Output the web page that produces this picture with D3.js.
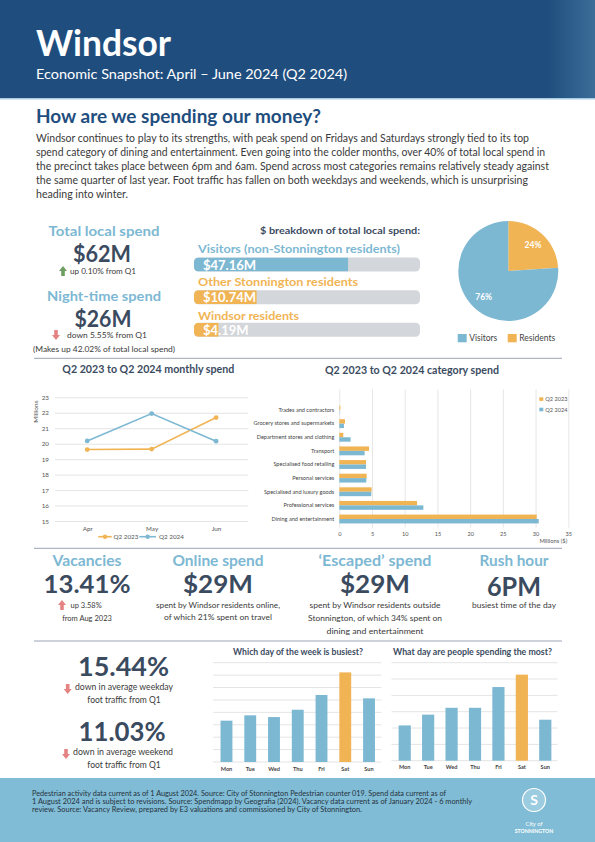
<!DOCTYPE html>
<html><head><meta charset="utf-8">
<script src="https://cdn.jsdelivr.net/npm/d3@7"></script>
<style>
html,body{margin:0;padding:0;background:#fff;}
svg{display:block;font-family:Lato,'Open Sans',sans-serif;}
</style></head><body>
<svg id="c" width="595" height="842"></svg>
<script>
// ---------------- DATA ----------------
const months = ["Apr","May","Jun"];
const seriesNames = ["Q2 2023","Q2 2024"];
const monthly2023 = [19.62,19.65,21.69];
const monthly2024 = [20.18,21.95,20.16];
const monthlyTicks = [15,16,17,18,19,20,21,22,23];

const categories = ["Trades and contractors","Grocery stores and supermarkets","Department stores and clothing","Transport","Specialised food retailing","Personal services","Specialised and luxury goods","Professional services","Dining and entertainment"];
const category2023 = [0.15,0.87,0.61,4.54,4.08,4.18,4.94,11.88,30.17];
const category2024 = [0.04,0.71,1.73,3.87,4.08,4.13,4.89,12.85,30.48];
const categoryTicks = [0,5,10,15,20,25,30,35];

const breakdownLabels = ["Visitors (non-Stonnington residents)","Other Stonnington residents","Windsor residents"];
const breakdownValues = [47.16,10.74,4.19];
const breakdownText = ["$47.16M","$10.74M","$4.19M"];
const breakdownDomainMax = [69.2,38.8,38.8];

const pieLabels = ["Visitors","Residents"];
const pieValues = [76,24];

const days = ["Mon","Tue","Wed","Thu","Fri","Sat","Sun"];
const footTraffic = [3.33,3.76,3.62,4.21,5.40,7.22,5.13];
const footTicks = [0,1,2,3,4,5,6,7,8];
const daySpend = [2.16,2.82,3.24,3.24,4.51,5.27,2.51];
const spendTicks = [0,1,2,3,4,5,6];

const paragraph = [
 "Windsor continues to play to its strengths, with peak spend on Fridays and Saturdays strongly tied to its top",
 "spend category of dining and entertainment. Even going into the colder months, over 40% of total local spend in",
 "the precinct takes place between 6pm and 6am.  Spend across most categories remains relatively steady against",
 "the same quarter of last year. Foot traffic has fallen on both weekdays and weekends, which is unsurprising",
 "heading into winter."
];
const footerLines = [
 "Pedestrian activity data current as of 1 August 2024. Source: City of Stonnington Pedestrian counter 019. Spend data current as of",
 "1 August 2024 and is subject to revisions. Source: Spendmapp by Geografia (2024). Vacancy data current as of January 2024 - 6 monthly",
 "review. Source: Vacancy Review, prepared by E3 valuations and commissioned by City of Stonnington."
];

// ---------------- STYLE ----------------
const NAVY="#1f4e7e", BLUE="#7db8d3", ORANGE="#f1b454", DARK="#3b4b5f", GREY="#d3d6da", LINE="#9aa3b5", TXT="#3a3a3a", SMALL="#555";
const svg = d3.select("#c");

function txt(g,x,y,s,o={}){
  const t=g.append("text").attr("x",x).attr("y",y).text(s)
    .attr("font-size",o.size||10).attr("fill",o.fill||TXT)
    .attr("font-weight",o.weight||400).attr("text-anchor",o.anchor||"start");
  if(o.len){t.attr("textLength",o.len).attr("lengthAdjust","spacingAndGlyphs");}
  if(o.family) t.attr("font-family",o.family);
  return t;
}
function arrow(g,cx,top,dir,color){
  const h=10,hw=4,sw=1.8,hh=5;
  let pts;
  if(dir==="up") pts=[[cx,top],[cx+hw,top+hh],[cx+sw,top+hh],[cx+sw,top+h],[cx-sw,top+h],[cx-sw,top+hh],[cx-hw,top+hh]];
  else pts=[[cx-sw,top],[cx+sw,top],[cx+sw,top+h-hh],[cx+hw,top+h-hh],[cx,top+h],[cx-hw,top+h-hh],[cx-sw,top+h-hh]];
  g.append("polygon").attr("points",pts.map(p=>p.join(",")).join(" ")).attr("fill",color);
}

// ---------------- HEADER ----------------
const defs=svg.append("defs");
const grad=defs.append("linearGradient").attr("id","hg").attr("x1","0").attr("x2","1").attr("y1","0").attr("y2","0");
grad.append("stop").attr("offset","0").attr("stop-color",NAVY);
grad.append("stop").attr("offset","0.92").attr("stop-color",NAVY);
grad.append("stop").attr("offset","1").attr("stop-color","#3c6d98");
svg.append("rect").attr("x",0).attr("y",0).attr("width",595).attr("height",98).attr("fill","url(#hg)");
svg.append("rect").attr("x",0).attr("y",98).attr("width",595).attr("height",1.5).attr("fill","#a9cbe3");
txt(svg,36,56,"Windsor",{size:36,weight:700,fill:"#fff",len:135});
txt(svg,36,79,"Economic Snapshot: April \u2013 June 2024 (Q2 2024)",{size:13.5,fill:"#fff",len:311});

// ---------------- INTRO ----------------
txt(svg,36,123,"How are we spending our money?",{size:18.5,weight:700,fill:NAVY,len:285});
const paraLen=[493,509,513,492,92];
paragraph.forEach((l,i)=>txt(svg,36,141.5+i*14,l,{size:10.5,fill:TXT,len:paraLen[i]}));

// ---------------- KPI LEFT ----------------
const k=svg.append("g");
txt(k,104,235.7,"Total local spend",{size:14,weight:700,fill:BLUE,anchor:"middle",len:111});
txt(k,102,261.7,"$62M",{size:22.5,weight:700,fill:DARK,anchor:"middle",len:58});
arrow(k,63,266,"up","#6f9e62");
txt(k,70,274,"up 0.10% from Q1",{size:7.5,fill:TXT,len:66});
txt(k,104,301,"Night-time spend",{size:14,weight:700,fill:BLUE,anchor:"middle",len:114});
txt(k,103,326.7,"$26M",{size:22.5,weight:700,fill:DARK,anchor:"middle",len:57});
arrow(k,56,330,"down","#e58383");
txt(k,67,338.3,"down 5.55% from Q1",{size:7.5,fill:TXT,len:80});
txt(k,104,351.7,"(Makes up 42.02% of total local spend)",{size:7.5,fill:TXT,anchor:"middle",len:142});

// ---------------- BREAKDOWN BARS ----------------
const b=svg.append("g");
txt(b,420,234,"$ breakdown of total local spend:",{size:9.5,weight:700,fill:DARK,anchor:"end",len:160});
const bx0=194,bx1=420,bh=14;
const labelY=[252.5,286,320], barY=[257.5,290.2,322.8];
const barColors=[BLUE,ORANGE,ORANGE];
breakdownValues.forEach((v,i)=>{
  const sc=d3.scaleLinear().domain([0,breakdownDomainMax[i]]).range([bx0,bx1]);
  txt(b,198,labelY[i],breakdownLabels[i],{size:12,weight:700,fill:barColors[i],len:[202,160,101][i]});
  const cid="clip"+i;
  defs.append("clipPath").attr("id",cid).append("rect").attr("x",bx0).attr("y",barY[i]).attr("width",bx1-bx0).attr("height",bh).attr("rx",4.5);
  b.append("rect").attr("x",bx0).attr("y",barY[i]).attr("width",bx1-bx0).attr("height",bh).attr("rx",4.5).attr("fill",GREY);
  b.append("rect").attr("clip-path",`url(#${cid})`).attr("x",bx0).attr("y",barY[i]).attr("width",sc(v)-bx0).attr("height",bh).attr("fill",barColors[i]);
  txt(b,203,barY[i]+12,breakdownText[i],{size:13,weight:700,fill:"#fff"});
});

// ---------------- PIE ----------------
const pg=svg.append("g").attr("transform","translate(508.3,271)");
const pie=d3.pie().sort(null).value(d=>d)(pieValues.slice().reverse());
const arc=d3.arc().innerRadius(0).outerRadius(50);
const pieCols=[ORANGE,BLUE];
pg.selectAll("path").data(pie).join("path").attr("d",arc).attr("fill",(d,i)=>pieCols[i]);
const labArc=d3.arc().innerRadius(36).outerRadius(36);
pg.selectAll("text.pl").data(pie).join("text").attr("class","pl")
  .attr("transform",(d,i)=>{const c=labArc.centroid(d);return `translate(${c[0]},${c[1]+3})`;})
  .attr("text-anchor","middle").attr("font-size",8.5).attr("font-weight",700).attr("fill","#fff")
  .text(d=>d.data+"%");
const legCols=[BLUE,ORANGE], legX=[457.7,507.7];
pieLabels.forEach((l,i)=>{
  svg.append("rect").attr("x",legX[i]).attr("y",334).attr("width",9).attr("height",8.3).attr("fill",legCols[i]);
  txt(svg,legX[i]+11.5,341.3,l,{size:8.5,fill:"#444"});
});

// separators
[358.3,548.3,641].forEach(y=>svg.append("line").attr("x1",34).attr("x2",562).attr("y1",y).attr("y2",y).attr("stroke",LINE).attr("stroke-width",1));

// ---------------- LINE CHART ----------------
const lc=svg.append("g");
txt(lc,148.3,373.3,"Q2 2023 to Q2 2024 monthly spend",{size:10.5,weight:700,fill:DARK,anchor:"middle",len:172});
const lx=d3.scalePoint().domain(months).range([55,248.3]).padding(0.5);
const ly=d3.scaleLinear().domain([15,23]).range([521,397.3]);
const ya=lc.append("g").attr("transform","translate(55,0)")
  .call(d3.axisLeft(ly).tickValues(monthlyTicks).tickSize(-(248.3-55)).tickPadding(6).tickFormat(d3.format("d")));
ya.select(".domain").remove();
ya.selectAll("line").attr("stroke","#d9d9d9").attr("stroke-width",0.7);
ya.selectAll("text").attr("font-size",6.3).attr("fill",SMALL).attr("font-family","Lato,sans-serif");
const xa=lc.append("g").attr("transform","translate(0,521)").call(d3.axisBottom(lx).tickSize(0).tickPadding(6));
xa.select(".domain").remove();
xa.selectAll("text").attr("font-size",6.3).attr("fill",SMALL).attr("font-family","Lato,sans-serif");
lc.append("text").attr("transform","translate(38,411.7) rotate(-90)").attr("text-anchor","middle")
  .attr("font-size",6.5).attr("fill",SMALL).text("Millions");
const lineGen=d3.line().x((d,i)=>lx(months[i])).y(d=>ly(d));
[[monthly2023,ORANGE],[monthly2024,BLUE]].forEach(([arr,col])=>{
  lc.append("path").attr("d",lineGen(arr)).attr("fill","none").attr("stroke",col).attr("stroke-width",1.6);
  lc.selectAll(null).data(arr).join("circle").attr("cx",(d,i)=>lx(months[i])).attr("cy",d=>ly(d)).attr("r",2.4).attr("fill",col);
});
const lLeg=[[98.3,111.7,113.5,ORANGE],[139.3,156,159,BLUE]];
seriesNames.forEach((s,i)=>{
  const [a,bb,tx,col]=lLeg[i];
  lc.append("line").attr("x1",a).attr("x2",bb).attr("y1",536.7).attr("y2",536.7).attr("stroke",col).attr("stroke-width",1.6);
  lc.append("circle").attr("cx",(a+bb)/2).attr("cy",536.7).attr("r",2.2).attr("fill",col);
  txt(lc,tx,539,s,{size:6.3,fill:SMALL});
});

// ---------------- CATEGORY CHART ----------------
const cc=svg.append("g");
txt(cc,412,374.3,"Q2 2023 to Q2 2024 category spend",{size:10.5,weight:700,fill:DARK,anchor:"middle",len:174});
const cx=d3.scaleLinear().domain([0,35]).range([339.3,568.3]);
const cy=d3.scaleBand().domain(categories).range([403.2,525.8]).paddingInner(0.35).paddingOuter(0.175);
const cs=d3.scaleBand().domain(seriesNames).range([0,cy.bandwidth()]);
const cxa=cc.append("g").attr("transform","translate(0,527.7)")
  .call(d3.axisBottom(cx).tickValues(categoryTicks).tickSize(-(527.7-389.3)).tickPadding(4));
cxa.select(".domain").remove();
cxa.selectAll("line").attr("stroke","#dcdcdc").attr("stroke-width",0.7);
cxa.selectAll("text").attr("font-size",5.6).attr("fill",SMALL).attr("font-family","Lato,sans-serif");
const cya=cc.append("g").attr("transform","translate(339.3,0)").call(d3.axisLeft(cy).tickSize(0).tickPadding(5));
cya.select(".domain").remove();
cya.selectAll("text").attr("font-size",5.6).attr("fill","#444").attr("font-family","Lato,sans-serif");
[[category2023,ORANGE,seriesNames[0]],[category2024,BLUE,seriesNames[1]]].forEach(([arr,col,s])=>{
  cc.selectAll(null).data(arr).join("rect")
    .attr("x",cx(0)).attr("y",(d,i)=>cy(categories[i])+cs(s))
    .attr("width",d=>cx(d)-cx(0)).attr("height",cs.bandwidth()).attr("fill",col);
});
txt(cc,553.3,542.7,"Millions ($)",{size:5.8,fill:SMALL,anchor:"middle"});
[[ORANGE,397.3],[BLUE,407.7]].forEach(([col,y],i)=>{
  cc.append("rect").attr("x",539.3).attr("y",y).attr("width",4).attr("height",3.6).attr("fill",col);
  txt(cc,545.3,y+3.8,seriesNames[i],{size:5.6,fill:SMALL});
});

// ---------------- KPI ROW ----------------
const r=svg.append("g");
const colX=[87,218,375,514];
const heads=["Vacancies","Online spend","\u2018Escaped\u2019 spend","Rush hour"];
const headLen=[69,91,113,69];
const vals=["13.41%","$29M","$29M","6PM"];
const valLen=[87,70,70,54];
heads.forEach((h,i)=>{
  txt(r,colX[i],565.7,h,{size:15,weight:700,fill:BLUE,anchor:"middle",len:headLen[i]});
  txt(r,colX[i],i===3?596:593.3,vals[i],{size:i===3?26:25.5,weight:700,fill:DARK,anchor:"middle",len:valLen[i]});
});
arrow(r,62,600,"up","#e58383");
txt(r,70.5,608,"up 3.58%",{size:7.5,fill:TXT});
txt(r,87,620.5,"from Aug 2023",{size:7.5,fill:TXT,anchor:"middle"});
txt(r,218,608.3,"spent by Windsor residents online,",{size:7.5,fill:TXT,anchor:"middle",len:124});
txt(r,218,620.3,"of which 21% spent on travel",{size:7.5,fill:TXT,anchor:"middle",len:108});
txt(r,375,608.3,"spent by Windsor residents outside",{size:7.5,fill:TXT,anchor:"middle",len:131});
txt(r,375,621,"Stonnington, of which 34% spent on",{size:7.5,fill:TXT,anchor:"middle",len:134});
txt(r,375,634,"dining and entertainment",{size:7.5,fill:TXT,anchor:"middle",len:97});
txt(r,514,608.3,"busiest time of the day",{size:7.5,fill:TXT,anchor:"middle",len:84});

// ---------------- FOOT TRAFFIC STATS ----------------
const f=svg.append("g");
txt(f,123.5,676,"15.44%",{size:26,weight:700,fill:DARK,anchor:"middle",len:91});
arrow(f,67.7,684,"down","#e58383");
txt(f,75,689.5,"down in average weekday",{size:8.5,fill:TXT,len:98});
txt(f,124,703,"foot traffic from Q1",{size:8.5,fill:TXT,anchor:"middle"});
txt(f,122,740.5,"11.03%",{size:26,weight:700,fill:DARK,anchor:"middle",len:87});
arrow(f,66,749,"down","#e58383");
txt(f,73,754.5,"down in average weekend",{size:8.5,fill:TXT,len:100});
txt(f,124,767.5,"foot traffic from Q1",{size:8.5,fill:TXT,anchor:"middle"});

// ---------------- DAY CHARTS ----------------
function dayChart(vals,ticks,x0,x1,yTop,yBase,title,titleX,titleLen,pIn,pOut,labY){
  const g=svg.append("g");
  txt(g,titleX,654.5,title,{size:9,weight:700,fill:DARK,anchor:"middle",len:titleLen});
  const x=d3.scaleBand().domain(days).range([x0,x1]).paddingInner(pIn).paddingOuter(pOut);
  const y=d3.scaleLinear().domain([0,d3.max(ticks)]).range([yBase,yTop]);
  g.selectAll("line.g").data(ticks).join("line").attr("class","g")
    .attr("x1",x0-1.5).attr("x2",x1+0.5).attr("y1",d=>y(d)).attr("y2",d=>y(d))
    .attr("stroke","#e4e4e4").attr("stroke-width",1);
  const mx=d3.max(vals);
  g.selectAll("rect").data(vals).join("rect")
    .attr("x",(d,i)=>x(days[i])).attr("y",d=>y(d)).attr("width",x.bandwidth()).attr("height",d=>yBase-y(d))
    .attr("fill",d=>d===mx?ORANGE:BLUE);
  g.selectAll("text.d").data(days).join("text").attr("class","d")
    .attr("x",d=>x(d)+x.bandwidth()/2).attr("y",labY).attr("text-anchor","middle")
    .attr("font-size",5.6).attr("font-weight",700).attr("fill","#444").text(d=>d);
}
dayChart(footTraffic,footTicks,214.6,380.9,662.7,762,"Which day of the week is busiest?",298,130,0.5,0.25,770.5);
dayChart(daySpend,spendTicks,393,557,662.7,760.7,"What day are people spending the most?",472.5,159,0.48,0.24,769.3);

// ---------------- FOOTER ----------------
svg.append("rect").attr("x",0).attr("y",778).attr("width",595).attr("height",64).attr("fill","#80bcd5");
const fLen=[414,440,330];
footerLines.forEach((l,i)=>txt(svg,32,796+i*8,l,{size:6.8,fill:"#26323d",len:fLen[i]}));
svg.append("circle").attr("cx",534).attr("cy",800).attr("r",11.5).attr("fill","#9ccce0").attr("stroke","#fff").attr("stroke-width",1.2);
txt(svg,534,805,"S",{size:14,weight:700,fill:"#fff",anchor:"middle"});
txt(svg,534,826,"City of",{size:5.8,fill:"#fff",anchor:"middle"});
txt(svg,534,833,"STONNINGTON",{size:5.2,weight:700,fill:"#fff",anchor:"middle"});
</script>
</body></html>
